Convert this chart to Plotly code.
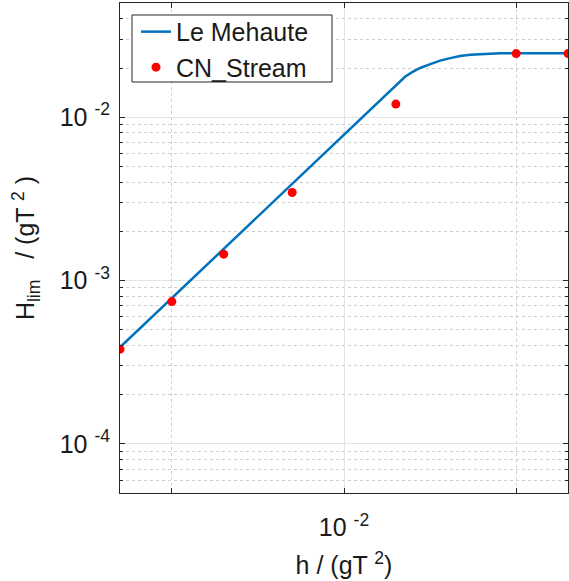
import plotly.graph_objects as go

# Le Mehaute breaking limit curve
lm_h = [5e-4, 0.0227, 0.0249, 0.0277, 0.0317, 0.0362, 0.0414, 0.0473, 0.0541, 0.0618, 0.0708, 0.0809, 0.1, 0.2]
lm_H = [3.9e-4, 0.01774, 0.01888, 0.0200, 0.02113, 0.0222, 0.02298, 0.0237, 0.0241, 0.0244, 0.02449, 0.0246, 0.0246, 0.0246]

# CN_Stream points
cn_h = [5e-4, 1e-3, 2e-3, 5e-3, 2e-2, 1e-1, 2e-1]
cn_H = [3.8e-4, 7.43e-4, 1.45e-3, 3.46e-3, 1.203e-2, 2.45e-2, 2.45e-2]

x_major = [1e-2]
x_major_text = ["10 <sup>-2</sup>"]
x_minor = [1e-3, 1e-1]
y_major = [1e-4, 1e-3, 1e-2]
y_major_text = ["10 <sup>-4</sup>", "10 <sup>-3</sup>", "10 <sup>-2</sup>"]
y_minor = [m * 10.0 ** e for e in (-5, -4, -3, -2) for m in range(2, 10) if 5e-5 <= m * 10.0 ** e <= 5e-2]

FONT = "Liberation Sans, Arial, sans-serif"
AX = "#262626"
TXT = "#1a1a1a"
FS = 25

fig = go.Figure()
fig.add_trace(go.Scatter(x=lm_h, y=lm_H, mode="lines", name="Le Mehaute",
                         line=dict(color="#0072BD", width=2.5)))
fig.add_trace(go.Scatter(x=cn_h, y=cn_H, mode="markers", name="CN_Stream",
                         marker=dict(color="#FF0000", size=9)))

common = dict(showline=True, linecolor=AX, linewidth=1, mirror="ticks",
              ticks="inside", ticklen=5, tickcolor=AX, showgrid=True,
              gridcolor="#e3e3e3", gridwidth=1, zeroline=False,
              tickfont=dict(family=FONT, size=FS, color=TXT))

fig.update_xaxes(type="log", range=[-3.30103, -0.69897],
                 tickmode="array", tickvals=x_major, ticktext=x_major_text,
                 minor=dict(tickmode="array", tickvals=x_minor, ticks="inside", ticklen=5,
                            tickcolor=AX, showgrid=True, gridcolor="#cfcfcf", griddash="dot"),
                 title=dict(text="h / (gT <sup>2</sup>)", font=dict(family=FONT, size=FS, color=TXT), standoff=16),
                 ticklabelstandoff=12,
                 **common)
fig.update_yaxes(type="log", range=[-4.30103, -1.30103],
                 tickmode="array", tickvals=y_major, ticktext=y_major_text,
                 minor=dict(tickmode="array", tickvals=y_minor, ticks="inside", ticklen=3,
                            tickcolor=AX, showgrid=True, gridcolor="#cfcfcf", griddash="dot"),
                 title=dict(text="H<sub>lim</sub>   / (gT <sup>2</sup> )", font=dict(family=FONT, size=FS, color=TXT), standoff=17),
                 ticklabelstandoff=4,
                 **common)

# legend frame (MATLAB-style padded box)
fig.add_shape(type="rect", xref="paper", yref="paper",
              x0=0.0268, x1=0.4732, y0=0.8388, y1=0.9755,
              line=dict(color=AX, width=1), fillcolor="white", layer="above")

fig.update_layout(
    width=569, height=581,
    margin=dict(l=120, r=1, t=3, b=88),
    paper_bgcolor="white", plot_bgcolor="white",
    showlegend=True,
    legend=dict(x=0.0357, y=0.988, xanchor="left", yanchor="top",
                bgcolor="rgba(0,0,0,0)", borderwidth=0,
                font=dict(family=FONT, size=FS, color=TXT),
                itemwidth=30, tracegroupgap=0),
)

fig.write_html("out.html")
